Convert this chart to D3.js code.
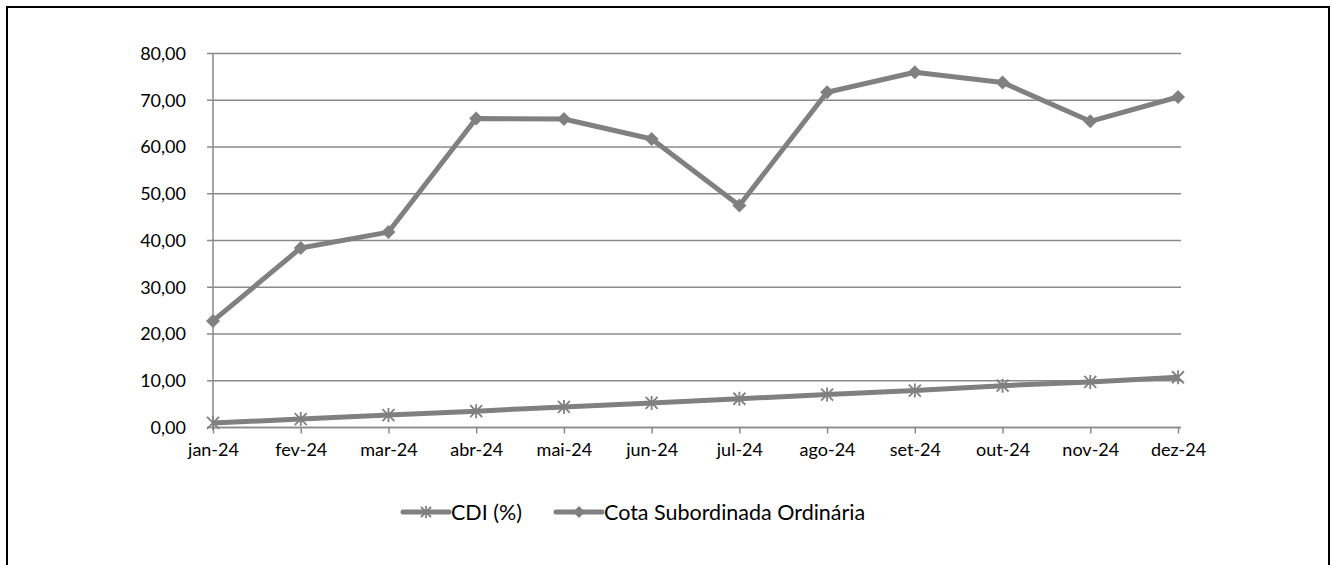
<!DOCTYPE html>
<html lang="pt">
<head>
<meta charset="UTF-8">
<title>CDI x Cota Subordinada</title>
<style>
    body { margin: 0; background: #fff; }
    svg { display: block; }
    svg text { font-family: Lato, "Open Sans", sans-serif; fill: #000; }
    .grid line { stroke: #8a8a8a; stroke-width: 1.5; }
    .axis text { font-size: 18px; }
    .axis path, .axis line { stroke: #8a8a8a; stroke-width: 1.5; }
</style>
</head>
<body>
<svg id="chart"></svg>
<script src="https://d3js.org/d3.v7.min.js"></script>
<script>
    // dados
    const months = ["jan-24", "fev-24", "mar-24", "abr-24", "mai-24", "jun-24", "jul-24", "ago-24", "set-24", "out-24", "nov-24", "dez-24"];
    const cdi = [0.97, 1.80, 2.65, 3.50, 4.40, 5.25, 6.15, 7.05, 7.90, 8.95, 9.75, 10.75];
    const cota = [22.8, 38.4, 41.8, 66.1, 66.0, 61.7, 47.5, 71.7, 76.0, 73.8, 65.5, 70.7];
    const yTicks = [0, 10, 20, 30, 40, 50, 60, 70, 80];
    const seriesNames = ["CDI (%)", "Cota Subordinada Ordinária"];

    const w = 1333, h = 565;
    const plotL = 213, plotR = 1180, plotT = 53.5, plotB = 427.5;
    const lineColor = "#808080";

    const svg = d3.select("#chart").attr("width", w).attr("height", h);

    // moldura
    svg.append("rect")
        .attr("x", 7).attr("y", 7)
        .attr("width", 1322).attr("height", 600)
        .attr("fill", "none").attr("stroke", "#000").attr("stroke-width", 2);

    const x = d3.scalePoint().domain(months).range([plotL, 1178]);
    const y = d3.scaleLinear().domain([0, 80]).range([plotB, plotT]);

    // linhas de grade
    svg.append("g").attr("class", "grid")
        .selectAll("line").data(yTicks).enter().append("line")
        .attr("x1", plotL - 6).attr("x2", plotR + 1)
        .attr("y1", d => y(d)).attr("y2", d => y(d));

    // eixo Y
    const yAxis = d3.axisLeft(y).tickValues(yTicks).tickSize(6).tickPadding(21)
        .tickFormat(d => d3.format(".2f")(d).replace(".", ","));
    svg.append("g").attr("class", "axis")
        .attr("transform", "translate(" + plotL + ",0)")
        .call(yAxis)
        .call(g => g.select(".domain").remove())
        .call(g => g.selectAll(".tick line").remove());
    svg.append("line")
        .attr("x1", plotL).attr("x2", plotL).attr("y1", plotT).attr("y2", plotB)
        .attr("stroke", "#8a8a8a").attr("stroke-width", 1.5);

    // eixo X
    const xAxis = d3.axisBottom(x).tickSize(6).tickPadding(10);
    svg.append("g").attr("class", "axis")
        .attr("transform", "translate(0," + plotB + ")")
        .call(xAxis)
        .call(g => g.select(".domain").attr("d", "M" + plotL + ",0H" + (plotR + 1)));

    const line = d3.line().x((d, i) => x(months[i])).y(d => y(d));

    // CDI
    svg.append("path").datum(cdi)
        .attr("d", line).attr("fill", "none")
        .attr("stroke", lineColor).attr("stroke-width", 5).attr("stroke-linejoin", "round");
    const star = "M-6,-6L6,6M-6,6L6,-6M0,-7V7";
    svg.selectAll(".cdi-pt").data(cdi).enter().append("path")
        .attr("class", "cdi-pt")
        .attr("transform", (d, i) => "translate(" + x(months[i]) + "," + y(d) + ")")
        .attr("d", star).attr("stroke", lineColor).attr("stroke-width", 1.8).attr("fill", "none");

    // Cota
    svg.append("path").datum(cota)
        .attr("d", line).attr("fill", "none")
        .attr("stroke", lineColor).attr("stroke-width", 5).attr("stroke-linejoin", "round");
    const diamond = "M0,-7L7,0L0,7L-7,0Z";
    svg.selectAll(".cota-pt").data(cota).enter().append("path")
        .attr("class", "cota-pt")
        .attr("transform", (d, i) => "translate(" + x(months[i]) + "," + y(d) + ")")
        .attr("d", diamond).attr("fill", lineColor);

    // legenda
    const legendY = 512;
    const legendX = [403, 556];
    const lg = svg.append("g");
    seriesNames.forEach((name, i) => {
        const x0 = legendX[i];
        lg.append("line")
            .attr("x1", x0).attr("x2", x0 + 46).attr("y1", legendY).attr("y2", legendY)
            .attr("stroke", lineColor).attr("stroke-width", 5).attr("stroke-linecap", "round");
        if (i === 0) {
            lg.append("path").attr("d", "M-5,-5L5,5M-5,5L5,-5M0,-6V6")
                .attr("transform", "translate(" + (x0 + 23) + "," + legendY + ")")
                .attr("stroke", lineColor).attr("stroke-width", 1.8).attr("fill", "none");
        } else {
            lg.append("path").attr("d", "M0,-6L6,0L0,6L-6,0Z")
                .attr("transform", "translate(" + (x0 + 23) + "," + legendY + ")")
                .attr("fill", lineColor);
        }
        lg.append("text")
            .attr("x", x0 + 48).attr("y", legendY)
            .attr("dy", "0.36em")
            .attr("font-size", "21.5px")
            .text(name);
    });
</script>
</body>
</html>
